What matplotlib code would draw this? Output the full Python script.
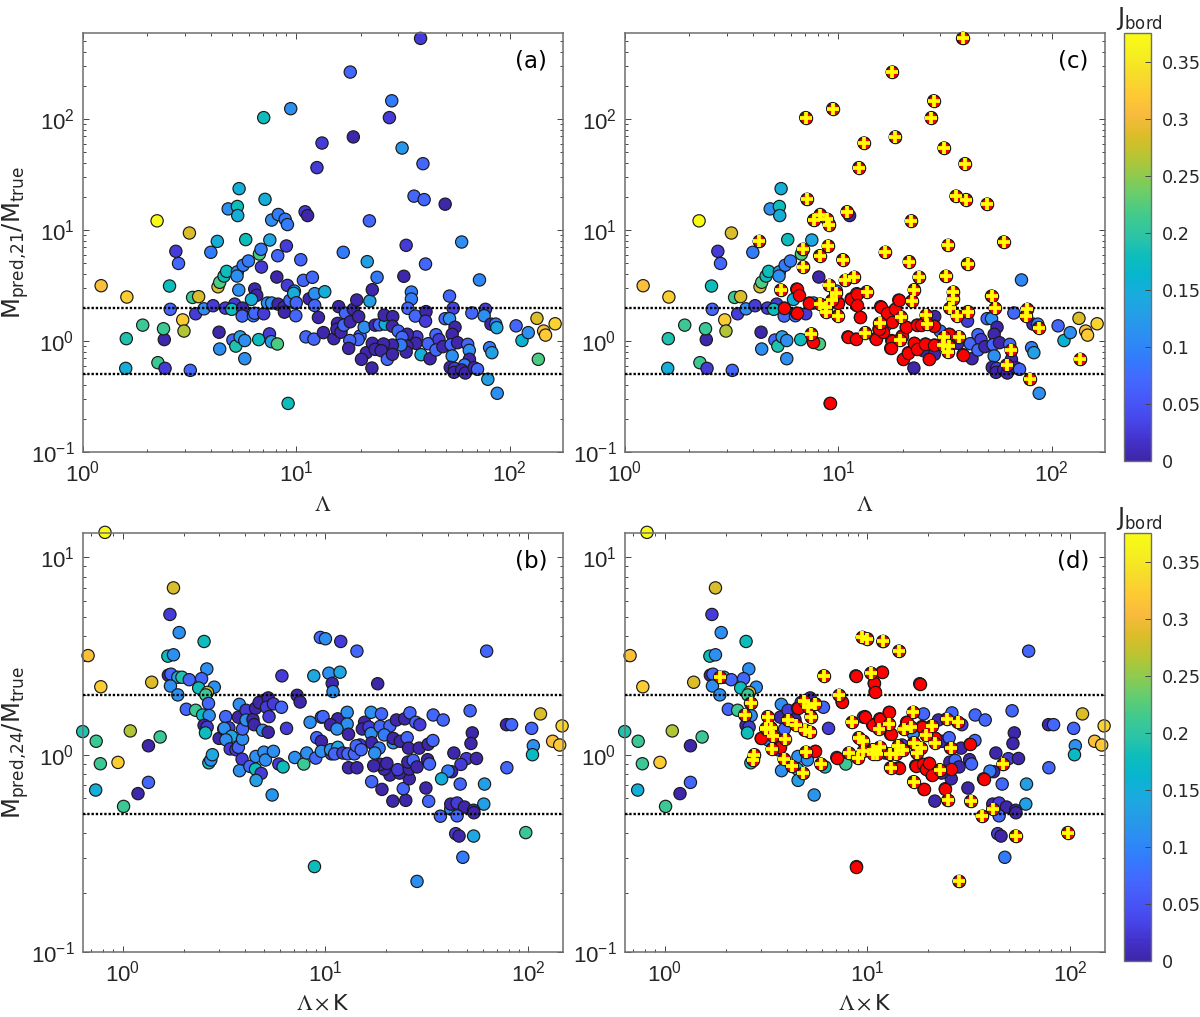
import matplotlib
matplotlib.use('Agg')
import matplotlib.pyplot as plt
import numpy as np
from matplotlib.colors import LinearSegmentedColormap, Normalize
from matplotlib.cm import ScalarMappable
from matplotlib.ticker import LogLocator, NullFormatter

# top panels: Lambda, M_pred,21/M_true, J_bord
lam_a = [1.22, 1.61, 2.23, 1.91, 1.60, 1.59, 2.25, 2.43, 2.41, 2.39,
         2.55, 2.57, 2.73, 2.81, 2.94, 2.98, 3.16, 3.19, 3.27, 3.49,
         3.38, 3.70, 3.98, 4.08, 4.27, 4.30, 4.38, 4.35, 4.38, 4.59,
         4.72, 4.66, 4.80, 5.05, 5.15, 4.99, 5.21, 5.30, 5.28, 5.40,
         5.30, 5.32, 5.38, 5.60, 5.58, 5.46, 5.74, 5.74, 5.64, 5.80,
         5.97, 6.39, 6.53, 6.17, 6.30, 6.39, 6.67, 6.72, 6.84, 7.04,
         7.14, 6.87, 7.04, 7.33, 7.52, 7.49, 7.65, 8.16, 7.67, 7.67,
         8.24, 8.22, 8.11, 8.19, 8.77, 8.80, 8.87, 9.09, 8.99, 9.09,
         9.42, 9.16, 9.33, 9.80, 9.73, 10.0, 9.95, 10.5, 10.8, 11.0,
         11.3, 11.1, 12.1, 11.5, 11.9, 12.2, 12.2, 12.7, 13.2, 12.5,
         13.4, 13.6, 15.0, 15.8, 15.6, 15.5, 16.2, 16.6, 17.0, 16.7,
         17.9, 18.5, 18.5, 17.9, 19.2, 19.6, 19.9, 19.5, 17.8, 17.6,
         20.8, 21.5, 22.0, 22.1, 22.7, 23.9, 21.3, 20.2, 22.7, 22.6,
         23.4, 24.5, 26.1, 25.8, 28.3, 28.0, 27.3, 28.2, 30.0, 31.3,
         32.7, 31.9, 34.6, 34.6, 33.3, 36.1, 40.5, 40.3, 38.2, 39.2,
         35.6, 39.7, 49.8, 40.3, 59.5, 72.1, 52.2, 54.3, 49.8, 52.2,
         55.4, 53.7, 36.7, 33.1, 31.3, 36.3, 33.0, 32.7, 30.9, 28.2,
         25.6, 23.4, 25.0, 26.7, 28.2, 38.4, 42.3, 41.5, 45.1, 46.6,
         45.1, 48.6, 53.1, 56.9, 63.5, 64.6, 53.7, 64.7, 61.4, 52.6,
         55.1, 54.8, 59.5, 61.9, 68.0, 70.6, 78.9, 87.3, 76.9, 66.4,
         75.8, 81.6, 85.9, 86.9, 80.4, 82.4, 107, 114, 122, 134,
         136, 144, 147, 163]
ratio_21 = [3.15, 2.49, 12.1, 1.39, 1.05, 0.567, 0.638, 0.567, 1.03, 1.29,
            3.13, 1.93, 6.43, 5.0, 1.55, 1.23, 9.4, 0.544, 2.47, 2.51,
            1.76, 1.95, 6.3, 2.08, 7.9, 3.08, 3.38, 1.2, 0.847, 3.85,
            4.24, 1.98, 15.5, 1.02, 2.15, 1.93, 0.90, 4.2, 3.85, 23.6,
            16.3, 13.5, 2.88, 1.98, 1.68, 1.09, 1.01, 0.693, 4.81, 8.2,
            5.26, 2.94, 2.58, 2.37, 1.69, 1.78, 1.03, 6.08, 6.7, 103,
            18.9, 4.64, 1.76, 2.2, 8.13, 1.16, 0.986, 0.94, 12.3, 2.2,
            13.8, 2.15, 3.77, 5.87, 2.02, 1.82, 12.5, 11.2, 7.18, 3.17,
            124, 0.274, 2.32, 2.82, 2.69, 2.21, 1.69, 5.4, 3.52, 14.6,
            13.5, 1.09, 1.04, 2.4, 3.75, 2.67, 2.09, 1.63, 60.8, 36.5,
            1.19, 2.78, 1.05, 2.04, 1.44, 1.28, 1.2, 6.3, 1.78, 1.39,
            265, 69, 1.93, 1.49, 2.34, 1.66, 1.11, 1.03, 1.01, 0.859,
            1.33, 5.19, 12.1, 2.29, 2.9, 3.75, 0.785, 0.684, 0.953, 0.571,
            1.39, 1.40, 1.42, 1.71, 1.66, 146, 103, 1.36, 1.23, 54.8,
            7.28, 3.83, 2.76, 2.39, 1.97, 1.68, 1.84, 1.51, 533, 39.6,
            20.2, 18.8, 17.1, 4.94, 7.8, 3.55, 2.54, 1.97, 1.59, 1.59,
            1.33, 1.15, 1.09, 1.15, 1.08, 0.953, 0.90, 0.796, 0.92, 0.92,
            0.94, 0.841, 0.818, 0.684, 0.759, 0.753, 0.693, 0.946, 1.14, 1.03,
            0.83, 0.889, 0.927, 0.966, 0.933, 0.824, 0.733, 0.684, 0.608, 0.579,
            0.567, 0.522, 0.548, 0.515, 0.575, 0.556, 0.452, 0.338, 1.93, 1.79,
            1.69, 1.42, 1.42, 1.32, 0.871, 0.785, 1.37, 1.01, 1.19, 1.6,
            0.684, 1.23, 1.13, 1.43]
jbord_a = [.31, .325, .375, .21, .19, .15, .21, .025, .002, .21,
           .18, .07, .025, .07, .325, .265, .285, .07, .21, .285,
           .025, .11, .09, .025, .15, .285, .22, .002, .11, .18,
           .18, .025, .11, .07, .025, .18, .19, .11, .11, .15,
           .18, .15, .11, .002, .07, .13, .11, .11, .09, .18,
           .09, .002, .002, .15, .09, .07, .18, .22, .09, .18,
           .15, .025, .025, .11, .14, .025, .13, .22, .11, .11,
           .09, .002, .002, .07, .002, .002, .09, .09, .025, .025,
           .11, .18, .07, .11, .15, .07, .07, .07, .07, .025,
           .002, .07, .07, .002, .07, .11, .07, .002, .025, .025,
           .002, .15, .002, .002, .002, .002, .002, .09, .07, .07,
           .07, .002, .002, .002, .002, .002, .07, .07, .07, .002,
           .11, .13, .07, .13, .002, .09, .002, .002, .002, .002,
           .002, .07, .15, .002, .002, .09, .025, .002, .07, .12,
           .025, .002, .09, .09, .07, .07, .002, .025, .025, .07,
           .07, .07, .002, .07, .11, .10, .07, .03, .07, .11,
           .002, .002, .025, .002, .07, .002, .002, .002, .09, .002,
           .002, .002, .002, .07, .002, .15, .002, .07, .07, .025,
           .07, .002, .07, .002, .07, .11, .11, .002, .09, .002,
           .025, .002, .002, .002, .002, .07, .13, .11, .025, .07,
           .11, .002, .09, .14, .09, .13, .07, .16, .11, .285,
           .22, .31, .32, .33]

# panel (c) overlay: points over threshold (red) and crossed points
red_lam_c = [6.39, 6.53, 5.60, 6.39, 7.33, 7.65, 10.0, 11.5, 12.2, 12.2,
             12.7, 11.1, 12.1, 15.0, 15.8, 17.0, 18.5, 19.2, 17.9, 16.2,
             15.5, 17.8, 17.6, 19.9, 20.8, 20.2, 21.3, 22.7, 23.4, 25.6,
             28.2, 26.7, 23.4, 24.5, 28.2, 33.1, 38.4, 9.16]
red_ratio_c = [2.94, 2.58, 1.98, 1.78, 2.2, 0.986, 2.21, 2.4, 2.67, 2.09,
               1.63, 1.09, 1.04, 1.05, 2.04, 1.78, 1.93, 2.34, 1.49, 1.2,
               1.28, 1.01, 0.859, 1.11, 1.33, 0.684, 0.785, 0.953, 0.841, 0.94,
               0.92, 0.684, 1.39, 1.40, 1.36, 1.15, 0.753, 0.274]
cross_lam_c = [7.14, 8.24, 7.67, 8.87, 9.09, 11.0, 4.27, 6.84, 8.99, 8.19,
               10.5, 6.87, 10.8, 11.9, 9.09, 9.73, 13.6, 9.33, 5.38, 8.22,
               8.77, 8.80, 9.95, 7.49, 16.6, 22.0, 21.5, 23.9, 22.7, 22.1,
               35.6, 39.7, 49.8, 32.7, 40.3, 31.9, 34.6, 34.6, 33.3, 36.1,
               40.5, 52.2, 54.3, 19.6, 15.6, 19.5, 13.4, 25.8, 26.1, 31.3,
               33.0, 32.7, 30.9, 36.7, 7.04, 9.42, 17.9, 28.0, 27.3, 38.2,
               18.5, 13.2, 12.5, 31.3, 39.2, 59.5, 76.9, 75.8, 86.9, 64.6,
               61.4, 78.9, 136]
cross_ratio_c = [18.9, 13.8, 12.3, 12.5, 11.2, 14.6, 7.9, 6.7, 7.18, 5.87,
                 5.4, 4.64, 3.52, 3.75, 3.17, 2.69, 2.78, 2.32, 2.88, 2.15,
                 2.02, 1.82, 1.69, 1.16, 6.3, 12.1, 5.19, 3.75, 2.9, 2.29,
                 20.2, 18.8, 17.1, 7.28, 4.94, 3.83, 2.76, 2.39, 1.97, 1.68,
                 1.84, 2.54, 1.97, 1.66, 1.44, 1.03, 1.19, 1.71, 1.42, 1.08,
                 0.90, 0.796, 0.92, 1.09, 103, 124, 265, 146, 103, 533,
                 69, 60.8, 36.5, 54.8, 39.6, 7.8, 1.93, 1.69, 1.32, 0.824,
                 0.608, 0.452, 0.684]

# bottom panels: Lambda x K, M_pred,24/M_true, J_bord
lamk_b = [0.818, 0.675, 0.78, 0.635, 0.74, 0.776, 0.948, 0.736, 1.01, 1.09,
          1.19, 1.34, 1.34, 1.39, 1.53, 1.67, 1.78, 1.78, 1.71, 1.90,
          1.68, 1.73, 1.87, 1.96, 2.13, 1.72, 1.87, 2.52, 2.60, 2.45,
          2.37, 2.83, 2.62, 2.57, 2.65, 2.06, 2.29, 2.48, 2.67, 2.52,
          2.61, 2.56, 2.99, 2.66, 2.72, 2.77, 3.22, 3.15, 3.34, 3.17,
          3.44, 3.23, 3.39, 3.62, 3.72, 3.90, 3.90, 3.72, 3.76, 4.06,
          4.06, 4.39, 4.45, 4.52, 4.84, 4.71, 5.22, 5.12, 5.54, 6.07,
          6.10, 5.27, 4.90, 5.22, 6.43, 3.88, 3.77, 4.24, 4.54, 4.52,
          4.82, 4.55, 4.97, 5.06, 5.54, 5.46, 5.89, 6.18, 7.06, 7.82,
          8.09, 8.96, 8.83, 8.40, 8.76, 7.25, 7.5, 9.06, 9.44, 9.55,
          9.55, 9.55, 10.0, 11.9, 14.3, 62.4, 10.4, 11.8, 10.8, 10.9,
          18.1, 9.73, 11.5, 10.6, 12.8, 12.8, 11.4, 13.0, 15.6, 15.2,
          16.4, 16.8, 16.8, 18.9, 18.6, 20.8, 19.5, 16.9, 18.4, 17.5,
          22.4, 24.6, 26.1, 27.9, 29.2, 21.6, 21.6, 23.4, 25.3, 25.7,
          29.0, 32.1, 33.9, 34.0, 38.1, 51.7, 53.0, 52.2, 43.0, 49.6,
          55.6, 46.6, 41.9, 40.2, 37.4, 46.2, 60.9, 60.4, 78.2, 82.8,
          78.5, 104, 106, 105, 115, 132, 143, 147, 97.3, 28.3,
          47.6, 43.9, 45.6, 53.8, 36.9, 41.5, 41.5, 44.6, 48.5, 53.8,
          54.0, 44.6, 32.3, 24.9, 21.5, 31.3, 24.2, 19.0, 16.9, 25.9,
          20.8, 23.2, 22.7, 19.5, 18.7, 20.1, 17.3, 13.0, 14.3, 25.9,
          25.5, 27.1, 28.3, 31.9, 32.6, 10.7, 10.6, 11.5, 11.1, 12.2,
          12.9, 13.9, 14.8, 14.2, 15.0]
ratio_24 = [13.4, 3.18, 2.21, 1.31, 1.17, 0.90, 0.914, 0.662, 0.547, 1.32,
            0.635, 0.724, 1.11, 2.33, 1.23, 3.16, 3.21, 7.01, 5.14, 4.16,
            2.53, 2.56, 2.47, 2.47, 2.4, 2.23, 2.01, 3.75, 2.72, 2.43,
            2.18, 2.2, 2.07, 2.01, 1.82, 1.70, 1.68, 1.59, 1.58, 1.41,
            1.38, 1.29, 1.21, 0.91, 0.94, 1.0, 1.56, 1.35, 1.37, 1.36,
            1.24, 1.19, 1.07, 1.06, 1.09, 1.2, 1.35, 1.55, 1.80, 1.68,
            1.5, 1.51, 1.42, 1.72, 1.87, 1.84, 1.94, 1.74, 1.81, 1.74,
            2.51, 1.56, 1.33, 1.30, 1.36, 0.95, 0.83, 0.873, 0.98, 0.845,
            0.804, 0.741, 1.03, 0.94, 1.04, 0.625, 0.897, 0.867, 0.968, 0.897,
            1.02, 0.962, 0.271, 1.46, 2.51, 2.0, 1.85, 1.22, 3.93, 1.55,
            1.17, 1.04, 3.87, 3.75, 3.35, 3.35, 2.59, 2.62, 2.3, 2.09,
            2.29, 1.56, 1.52, 1.42, 1.64, 1.43, 1.35, 1.27, 1.46, 1.35,
            1.38, 1.28, 1.64, 1.61, 1.39, 1.40, 1.26, 1.15, 1.08, 1.02,
            1.5, 1.52, 1.63, 1.46, 1.42, 1.15, 1.21, 1.17, 1.22, 1.08,
            1.08, 1.13, 1.18, 1.59, 1.5, 1.67, 1.29, 1.14, 1.02, 0.955,
            0.957, 0.893, 0.82, 0.826, 0.755, 0.71, 0.71, 0.562, 1.42, 1.42,
            0.859, 1.36, 1.11, 1.0, 1.61, 1.17, 1.12, 1.40, 0.403, 0.228,
            0.302, 0.398, 0.387, 0.387, 0.488, 0.531, 0.562, 0.569, 0.543, 0.523,
            0.508, 0.49, 0.581, 0.587, 0.582, 0.678, 0.673, 0.667, 0.73, 0.755,
            0.789, 0.807, 0.84, 0.845, 0.893, 0.904, 0.879, 0.859, 0.859, 0.845,
            0.918, 0.936, 0.867, 0.944, 0.897, 1.01, 1.06, 1.09, 1.01, 1.02,
            1.01, 1.01, 1.12, 1.11, 1.06]
jbord_b = [.375, .31, .325, .19, .21, .21, .325, .15, .21, .265,
           .002, .07, .002, .285, .21, .18, .11, .285, .025, .11,
           .002, .07, .13, .19, .07, .11, .11, .18, .11, .07,
           .18, .11, .285, .21, .07, .07, .21, .18, .11, .002,
           .025, .18, .002, .18, .11, .14, .07, .002, .025, .11,
           .14, .11, .025, .025, .07, .11, .07, .002, .11, .025,
           .11, .002, .002, .002, .14, .002, .002, .025, .025, .07,
           .025, .025, .11, .002, .025, .025, .11, .07, .11, .18,
           .025, .13, .11, .11, .11, .12, .025, .18, .11, .21,
           .11, .07, .18, .11, .14, .002, .002, .07, .07, .07,
           .002, .11, .11, .025, .07, .07, .11, .14, .002, .11,
           .002, .07, .002, .002, .11, .11, .11, .002, .002, .002,
           .025, .11, .11, .07, .07, .07, .09, .002, .09, .11,
           .002, .002, .07, .07, .025, .11, .002, .002, .07, .002,
           .002, .002, .07, .07, .07, .07, .002, .002, .002, .025,
           .002, .025, .002, .09, .15, .07, .13, .13, .002, .07,
           .07, .07, .11, .17, .285, .31, .32, .33, .21, .11,
           .09, .025, .002, .14, .07, .11, .002, .025, .002, .002,
           .002, .07, .07, .002, .002, .002, .07, .002, .07, .002,
           .002, .002, .025, .002, .002, .002, .002, .002, .002, .002,
           .002, .07, .002, .002, .07, .025, .11, .14, .07, .025,
           .07, .07, .025, .07, .07]

# panel (d) overlay
red_lamk_d = [8.76, 11.8, 10.8, 10.9, 18.1, 7.5, 2.99, 3.72, 4.52, 5.54,
              7.06, 9.73, 10.6, 11.5, 12.8, 13.0, 14.3, 15.6, 18.6, 21.6,
              17.3, 18.7, 19.5, 20.1, 20.8, 25.9, 19.0, 24.2, 32.1, 37.4,
              8.83]
red_ratio_d = [2.51, 2.62, 2.3, 2.09, 2.29, 1.85, 1.21, 1.09, 1.72, 1.04,
               0.968, 1.56, 1.42, 1.52, 1.64, 1.27, 0.859, 1.46, 1.39, 1.21,
               0.879, 0.893, 0.845, 0.904, 0.789, 0.845, 0.667, 0.673, 1.13, 0.755,
               0.271]
cross_lamk_d = [6.10, 10.4, 14.3, 9.44, 10.0, 11.9, 7.25, 1.87, 2.65, 2.48,
                3.22, 3.15, 3.34, 3.44, 3.17, 3.90, 3.39, 2.77, 2.72, 3.88,
                4.24, 4.82, 4.97, 5.89, 4.06, 4.45, 4.84, 5.12, 5.54, 5.27,
                4.90, 5.22, 8.09, 8.96, 8.40, 9.06, 9.55, 9.55, 12.8, 11.4,
                10.7, 10.6, 11.5, 11.1, 12.9, 13.9, 14.2, 15.0, 13.0, 15.2,
                16.4, 16.8, 20.8, 19.5, 16.9, 18.4, 17.5, 21.6, 25.7, 24.6,
                27.9, 22.7, 16.9, 24.9, 32.3, 36.9, 41.5, 28.3, 46.6, 53.8,
                97.3]
cross_ratio_d = [2.51, 2.59, 3.35, 3.93, 3.87, 3.75, 2.0, 2.47, 1.82, 1.59,
                 1.56, 1.35, 1.37, 1.24, 1.36, 1.2, 1.07, 1.0, 0.94, 0.95,
                 0.873, 0.804, 1.03, 0.897, 1.5, 1.42, 1.87, 1.74, 1.81, 1.56,
                 1.33, 1.30, 1.02, 0.962, 1.46, 1.22, 1.17, 1.04, 1.43, 1.35,
                 1.01, 1.06, 1.09, 1.01, 1.01, 1.01, 1.11, 1.06, 0.859, 1.35,
                 1.38, 1.64, 1.40, 1.26, 1.15, 1.08, 1.02, 1.15, 1.08, 1.52,
                 1.46, 0.84, 0.73, 0.587, 0.581, 0.488, 0.531, 0.228, 0.893, 0.387,
                 0.403]

limits = [0.5, 2]
cbar_ticks = [0, 0.05, 0.1, 0.15, 0.2, 0.25, 0.3, 0.35]
cbar_labels = ['0', '0.05', '0.1', '0.15', '0.2', '0.25', '0.3', '0.35']

# older MATLAB parula, every few entries
parula = LinearSegmentedColormap.from_list('parula', [
    (0.2422, 0.1504, 0.6603), (0.2647, 0.1978, 0.7952), (0.2803, 0.2782, 0.9221),
    (0.2795, 0.3447, 0.9717), (0.2602, 0.4123, 0.9952), (0.1963, 0.4847, 0.9892),
    (0.1764, 0.5499, 0.9520), (0.1460, 0.6091, 0.9079), (0.1113, 0.6635, 0.8763),
    (0.0297, 0.7082, 0.8163), (0.0433, 0.7411, 0.7394), (0.1717, 0.7670, 0.6554),
    (0.2470, 0.7918, 0.5567), (0.3909, 0.8029, 0.4354), (0.5616, 0.7942, 0.3045),
    (0.7242, 0.7698, 0.1910), (0.8634, 0.7406, 0.1596), (0.9728, 0.7298, 0.2394),
    (0.9952, 0.7893, 0.2028), (0.9676, 0.8639, 0.1643), (0.9628, 0.9373, 0.1265),
    (0.9769, 0.9839, 0.0805)])
norm = Normalize(0, 0.375)
GREY = '#6e6e6e'

W, H = 1200, 1017


def box(x0, y0, x1, y1):
    return [x0 / W, 1 - y1 / H, (x1 - x0) / W, (y1 - y0) / H]


def panel(pos, x, y, j, xlim, ylim, yt, tag, xlabel, ylabel=None, red=None, cross=None):
    ax = fig.add_axes(box(*pos))
    ax.set_xscale('log')
    ax.set_yscale('log')
    ax.scatter(x, y, c=j, cmap=parula, norm=norm, s=78, edgecolors='#1a1a1a', linewidths=0.85,
               clip_on=False, zorder=2)
    for lim in limits:
        ax.plot(xlim, [lim, lim], color='k', lw=1.7, ls=(0, (1, 0.8)), zorder=3)
    if red is not None:
        ax.scatter(red[0] + cross[0], red[1] + cross[1], c='#ff0000', s=78, edgecolors='#1a1a1a',
                   linewidths=0.85, clip_on=False, zorder=4)
        ax.scatter(cross[0], cross[1], c='#ffff00', marker='+', s=72, linewidths=2.7,
                   clip_on=False, zorder=5)
    ax.set_xlim(xlim)
    ax.set_ylim(ylim)
    xt = [1, 10, 100]
    ax.set_xticks(xt)
    ax.set_xticklabels([r'$\mathregular{10^{%d}}$' % np.log10(t) for t in xt],
                       family='Liberation Sans', fontsize=16)
    ax.set_yticks(yt)
    ax.set_yticklabels([r'$\mathregular{10^{%d}}$' % np.log10(t) for t in yt],
                       family='Liberation Sans', fontsize=16)
    for axis in (ax.xaxis, ax.yaxis):
        axis.set_minor_locator(LogLocator(base=10, subs=np.arange(2, 10) * 0.1, numticks=20))
        axis.set_minor_formatter(NullFormatter())
    ax.tick_params(which='major', direction='in', top=True, right=True, length=4, width=0.7,
                   color='#444444', labelcolor='#262626', pad=6)
    ax.tick_params(which='minor', direction='in', top=True, right=True, length=2.2, width=0.7,
                   color='#444444')
    for s in ax.spines.values():
        s.set_color(GREY)
        s.set_linewidth(1.1)
    ax.text(0.933, 0.934, tag, transform=ax.transAxes, ha='center', va='center',
            fontsize=16.5, color='k')
    ax.set_xlabel(xlabel, fontsize=16, math_fontfamily='stix', color='#262626', labelpad=6)
    if ylabel:
        fig.text(16 / W, 1 - (pos[1] + pos[3]) / 2 / H, ylabel, rotation=90, ha='center',
                 va='center', fontsize=17.5, color='#262626')
    return ax


def colorbar(y0, y1):
    cax = fig.add_axes(box(1124.3, y0, 1151, y1))
    cb = fig.colorbar(ScalarMappable(norm=norm, cmap=parula), cax=cax)
    cb.set_ticks(cbar_ticks)
    cb.set_ticklabels(cbar_labels)
    cax.tick_params(direction='in', length=4, width=0.7, color='#444444', labelsize=12.7,
                    labelcolor='#262626', pad=8)
    cb.outline.set_edgecolor(GREY)
    cb.outline.set_linewidth(1)
    fig.text(1139 / W, 1 - (y0 - 15) / H, r'$\mathrm{J_{bord}}$', ha='center', va='center',
             fontsize=17, color='#262626')


fig = plt.figure(figsize=(W / 100, H / 100), dpi=100)

xlim_top = (1, 178)
ylim_top = (0.1, 596)
xlim_bot = (0.635, 149)
ylim_bot = (0.1, 13.3)
yt_top = [0.1, 1, 10, 100]
yt_bot = [0.1, 1, 10]

panel((82.7, 33, 563.3, 452), lam_a, ratio_21, jbord_a, xlim_top, ylim_top, yt_top, '(a)',
      r'$\Lambda$', r'$\mathrm{M_{pred{,}21}/M_{true}}$')
panel((624.7, 33, 1105.3, 452), lam_a, ratio_21, jbord_a, xlim_top, ylim_top, yt_top, '(c)',
      r'$\Lambda$', red=(red_lam_c, red_ratio_c), cross=(cross_lam_c, cross_ratio_c))
panel((82.7, 533, 563.3, 952), lamk_b, ratio_24, jbord_b, xlim_bot, ylim_bot, yt_bot, '(b)',
      r'$\Lambda\times$K', r'$\mathrm{M_{pred{,}24}/M_{true}}$')
panel((624.7, 533, 1105.3, 952), lamk_b, ratio_24, jbord_b, xlim_bot, ylim_bot, yt_bot, '(d)',
      r'$\Lambda\times$K', red=(red_lamk_d, red_ratio_d), cross=(cross_lamk_d, cross_ratio_d))
colorbar(33, 461)
colorbar(533, 961)

fig.savefig('out.png', dpi=100)
